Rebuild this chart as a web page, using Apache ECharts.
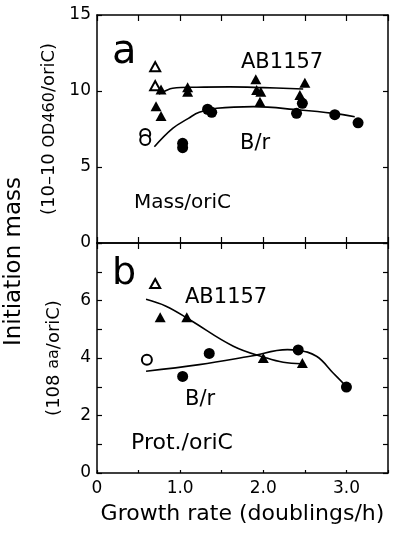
<!DOCTYPE html>
<html>
<head>
<meta charset="utf-8">
<script src="https://cdn.jsdelivr.net/npm/echarts@6/dist/echarts.min.js"></script>
<style>
html,body{margin:0;padding:0;background:#fff;}
#chart{width:400px;height:535px;}
</style>
</head>
<body>
<div id="chart"></div>
<script>
// ---- Data ----
// Panel a: Mass/oriC
var abOpenA   = [[0.70, 11.6], [0.70, 10.35]];
var abFilledA = [[0.77, 10.1], [0.71, 9.0], [0.77, 8.36], [1.09, 10.24], [1.09, 9.95],
                 [1.91, 10.77], [1.92, 10.07], [1.97, 9.95], [1.96, 9.3], [2.44, 9.74], [2.50, 10.55]];
var brOpenA   = [[0.58, 7.17], [0.58, 6.78]];
var brFilledA = [[1.03, 6.56], [1.03, 6.27], [1.33, 8.8], [1.38, 8.6], [2.40, 8.53],
                 [2.47, 9.19], [2.86, 8.44], [3.14, 7.91]];
var abFitA    = [[0.745, 9.8], [0.82, 10.0], [0.91, 10.18], [1.2, 10.25], [1.6, 10.27], [2.0, 10.22], [2.48, 10.13]];
var brFitA    = [[0.69, 6.33], [0.91, 7.54], [1.1, 8.2], [1.23, 8.6], [1.44, 8.86], [1.88, 8.97],
                 [2.44, 8.75], [2.84, 8.53], [3.10, 8.31]];
// Panel b: Prot./oriC
var abOpenB   = [[0.70, 6.59]];
var abFilledB = [[0.76, 5.42], [1.08, 5.42], [2.00, 4.0], [2.47, 3.83]];
var brOpenB   = [[0.60, 3.94]];
var brFilledB = [[1.03, 3.36], [1.35, 4.16], [2.42, 4.28], [3.00, 2.99]];
var abFitB    = [[0.59, 6.04], [0.83, 5.8], [1.11, 5.34], [1.64, 4.41], [2.04, 4.0], [2.24, 3.85], [2.46, 3.8]];
var brFitB    = [[0.59, 3.54], [1.23, 3.77], [1.84, 4.06], [2.29, 4.29], [2.41, 4.27], [2.64, 4.06],
                 [2.84, 3.48], [3.00, 3.01]];

// Axis settings
var xMin = 0, xMax = 3.5, xStep = 0.5;
var yAMin = 0, yAMax = 15, yAStep = 5;
var yBMin = 0, yBMax = 8, yBStep = 1;

var FONT = 'DejaVu Sans';
var black = '#000';

var chart = echarts.init(document.getElementById('chart'), null, {renderer: 'canvas'});

function xAxisBase(gridIndex, position, showLabel, tickLen) {
  return {
    type: 'value', gridIndex: gridIndex, position: position,
    min: xMin, max: xMax, interval: xStep,
    axisLine: {show: true, onZero: false, lineStyle: {color: black, width: 1.5}},
    axisTick: {show: true, inside: true, length: tickLen, lineStyle: {color: black, width: 1.2}},
    axisLabel: {show: showLabel, color: black, fontFamily: FONT, fontSize: 17, margin: 7,
      formatter: function (v) {
        if (Math.abs(v - Math.round(v)) > 1e-6) return '';
        return v === 0 ? '0' : v.toFixed(1);
      }},
    splitLine: {show: false}
  };
}
function yAxisBase(gridIndex, position, min, max, step, showLabel, labelFn) {
  return {
    type: 'value', gridIndex: gridIndex, position: position,
    min: min, max: max, interval: step,
    axisLine: {show: true, onZero: false, lineStyle: {color: black, width: 1.5}},
    axisTick: {show: true, inside: true, length: 5, lineStyle: {color: black, width: 1.2}},
    axisLabel: {show: showLabel, color: black, fontFamily: FONT, fontSize: 17, margin: 6,
      showMinLabel: true, showMaxLabel: true, formatter: labelFn},
    splitLine: {show: false}
  };
}

function scatter(name, xi, yi, data, symbol, size) {
  var hollow = symbol.indexOf('empty') === 0;
  return {
    type: 'scatter', name: name, xAxisIndex: xi, yAxisIndex: yi, data: data,
    symbol: symbol, symbolSize: size,
    itemStyle: hollow ? {color: black, borderColor: black, borderWidth: 1.4, opacity: 1}
                      : {color: black, opacity: 1},
    z: 5
  };
}
function fit(name, xi, yi, data) {
  return {
    type: 'line', name: name, xAxisIndex: xi, yAxisIndex: yi, data: data,
    smooth: 0.4, symbol: 'none', lineStyle: {color: black, width: 1.6}, z: 3
  };
}

var option = {
  backgroundColor: '#fff',
  animation: false,
  grid: [
    {left: 97, top: 15, width: 291, height: 228},
    {left: 97, top: 243, width: 291, height: 230}
  ],
  xAxis: [
    xAxisBase(0, 'bottom', false, 6),
    xAxisBase(0, 'top', false, 6),
    xAxisBase(1, 'top', false, 6),
    Object.assign(xAxisBase(1, 'bottom', true, 3), {
      name: 'Growth rate (doublings/h)', nameLocation: 'middle', nameGap: 30,
      nameTextStyle: {color: black, fontFamily: FONT, fontSize: 22}
    })
  ],
  yAxis: [
    Object.assign(yAxisBase(0, 'left', yAMin, yAMax, yAStep, true, function (v) { return String(v); }), {
      name: '(10–10 {s|OD460}/oriC)', nameLocation: 'middle', nameGap: 34, nameRotate: 90,
      nameTextStyle: {color: black, fontFamily: FONT, fontSize: 18,
        rich: {s: {fontFamily: FONT, fontSize: 16, color: black}}}
    }),
    yAxisBase(0, 'right', yAMin, yAMax, yAStep, false),
    Object.assign(yAxisBase(1, 'left', yBMin, yBMax, yBStep, true, function (v) {
      return (v % 2 === 0 && v < yBMax) ? String(v) : '';
    }), {
      name: '(108 {s|aa}/oriC)', nameLocation: 'middle', nameGap: 34, nameRotate: 90,
      nameTextStyle: {color: black, fontFamily: FONT, fontSize: 18,
        rich: {s: {fontFamily: FONT, fontSize: 16, color: black}}}
    }),
    yAxisBase(1, 'right', yBMin, yBMax, yBStep, false)
  ],
  graphic: [
    {type: 'text', left: 3, top: 177, rotation: Math.PI / 2, originX: 0, originY: 0,
     style: {text: 'Initiation mass', font: '23px "DejaVu Sans"', fill: black}},
    {type: 'text', x: 112, y: 33, style: {text: 'a', font: '40px "DejaVu Sans"', fill: black}},
    {type: 'text', x: 112, y: 255, style: {text: 'b', font: '38px "DejaVu Sans"', fill: black}},
    {type: 'text', x: 241, y: 52, style: {text: 'AB1157', font: '21px "DejaVu Sans"', fill: black}},
    {type: 'text', x: 240, y: 133, style: {text: 'B/r', font: '21px "DejaVu Sans"', fill: black}},
    {type: 'text', x: 134, y: 193, style: {text: 'Mass/oriC', font: '20px "DejaVu Sans"', fill: black}},
    {type: 'text', x: 185, y: 287, style: {text: 'AB1157', font: '21px "DejaVu Sans"', fill: black}},
    {type: 'text', x: 185, y: 389, style: {text: 'B/r', font: '21px "DejaVu Sans"', fill: black}},
    {type: 'text', x: 131, y: 432, style: {text: 'Prot./oriC', font: '22px "DejaVu Sans"', fill: black}}
  ],
  series: [
    fit('AB1157 fit a', 0, 0, abFitA),
    fit('B/r fit a', 0, 0, brFitA),
    scatter('AB1157 open a', 0, 0, abOpenA, 'emptyTriangle', [10, 9]),
    scatter('AB1157 a', 0, 0, abFilledA, 'triangle', [11, 10]),
    scatter('B/r open a', 0, 0, brOpenA, 'emptyCircle', 10),
    scatter('B/r a', 0, 0, brFilledA, 'circle', 11),
    fit('AB1157 fit b', 2, 2, abFitB),
    fit('B/r fit b', 2, 2, brFitB),
    scatter('AB1157 open b', 2, 2, abOpenB, 'emptyTriangle', [10, 9]),
    scatter('AB1157 b', 2, 2, abFilledB, 'triangle', [11, 10]),
    scatter('B/r open b', 2, 2, brOpenB, 'emptyCircle', 10),
    scatter('B/r b', 2, 2, brFilledB, 'circle', 11)
  ]
};
chart.setOption(option);
</script>
</body>
</html>
